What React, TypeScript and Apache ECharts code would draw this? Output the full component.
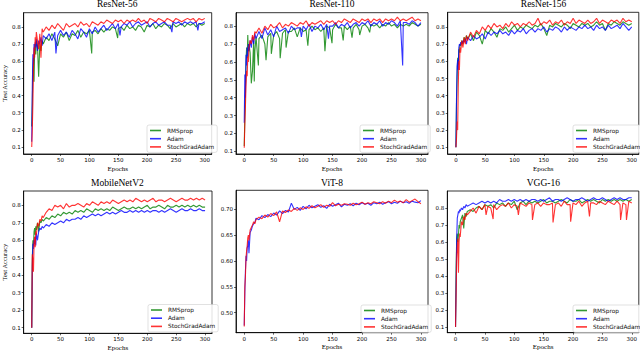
import { useEffect, useRef } from "react";
import * as echarts from "echarts";

const EPOCHS = [0, 1, 2, 3, 4, 5, 6, 7, 8, 10, 12, 14, 16, 18, 20,
  25, 30, 35, 40, 45, 50, 55, 60, 65, 70,
  75, 80, 85, 90, 95, 100, 105, 110, 115, 120,
  125, 130, 135, 140, 145, 150, 155, 160, 165, 170,
  175, 180, 185, 190, 195, 200, 205, 210, 215, 220,
  225, 230, 235, 240, 245, 250, 255, 260, 265, 270,
  275, 280, 285, 290, 295, 300];

const SERIES_NAMES = ["RMSprop", "Adam", "StochGradAdam"];
const COLORS = ["#008000", "#0000ff", "#ff0000"];
const X_TICKS = [0, 50, 100, 150, 200, 250, 300];
const Y_TICKS = [0.1, 0.2, 0.3, 0.4, 0.5, 0.6, 0.7, 0.8];
const VIT_TICKS = [0.5, 0.55, 0.6, 0.65, 0.7];

// ResNet-56
const R56_RMSPROP = [0.22, 0.35, 0.55, 0.62, 0.48, 0.66, 0.70, 0.64, 0.72, 0.69, 0.51, 0.70, 0.66, 0.72, 0.70,
  0.74, 0.72, 0.76, 0.73, 0.69, 0.76, 0.74, 0.77, 0.72, 0.76,
  0.75, 0.78, 0.74, 0.77, 0.76, 0.78, 0.77, 0.78, 0.76, 0.79,
  0.77, 0.79, 0.78, 0.80, 0.79, 0.79, 0.80, 0.78, 0.81, 0.79,
  0.80, 0.78, 0.81, 0.80, 0.77, 0.81, 0.80, 0.82, 0.79, 0.81,
  0.80, 0.82, 0.81, 0.79, 0.82, 0.80, 0.81, 0.82, 0.80, 0.82,
  0.81, 0.82, 0.80, 0.82, 0.81, 0.82];
const R56_RMSPROP_DIPS = [[104, 0.645], [149, 0.735]];
const R56_ADAM = [0.13, 0.45, 0.64, 0.58, 0.70, 0.66, 0.71, 0.68, 0.73, 0.66, 0.72, 0.70, 0.74, 0.69, 0.75,
  0.73, 0.76, 0.72, 0.77, 0.75, 0.78, 0.75, 0.77, 0.74, 0.78,
  0.76, 0.73, 0.79, 0.77, 0.74, 0.79, 0.76, 0.80, 0.77, 0.79,
  0.81, 0.78, 0.80, 0.82, 0.79, 0.82, 0.80, 0.82, 0.81, 0.83,
  0.80, 0.82, 0.83, 0.81, 0.82, 0.83, 0.80, 0.82, 0.83, 0.81,
  0.82, 0.83, 0.81, 0.81, 0.83, 0.82, 0.83, 0.81, 0.83, 0.82,
  0.83, 0.82, 0.83, 0.82, 0.82, 0.83];
const R56_ADAM_DIPS = [[42, 0.645], [153, 0.75], [243, 0.77], [288, 0.78]];
const R56_SGA = [0.10, 0.20, 0.35, 0.55, 0.68, 0.62, 0.74, 0.70, 0.77, 0.72, 0.67, 0.76, 0.62, 0.79, 0.77,
  0.80, 0.78, 0.81, 0.79, 0.82, 0.80, 0.78, 0.82, 0.80, 0.81,
  0.82, 0.80, 0.83, 0.81, 0.82, 0.80, 0.83, 0.82, 0.81, 0.83,
  0.82, 0.84, 0.83, 0.82, 0.84, 0.83, 0.84, 0.82, 0.84, 0.83,
  0.84, 0.83, 0.85, 0.83, 0.84, 0.82, 0.85, 0.84, 0.83, 0.85,
  0.84, 0.83, 0.85, 0.84, 0.83, 0.85, 0.84, 0.83, 0.84, 0.85,
  0.84, 0.85, 0.83, 0.85, 0.84, 0.85];

// ResNet-110
const R110_RMSPROP = [0.13, 0.30, 0.45, 0.60, 0.68, 0.62, 0.75, 0.66, 0.70, 0.65, 0.48, 0.55, 0.72, 0.66, 0.74,
  0.73, 0.75, 0.70, 0.74, 0.76, 0.75, 0.77, 0.73, 0.76, 0.78,
  0.77, 0.77, 0.79, 0.74, 0.79, 0.77, 0.78, 0.78, 0.80, 0.78,
  0.79, 0.77, 0.79, 0.80, 0.79, 0.78, 0.81, 0.79, 0.79, 0.80,
  0.78, 0.80, 0.79, 0.81, 0.78, 0.80, 0.81, 0.79, 0.81, 0.80,
  0.81, 0.79, 0.81, 0.80, 0.82, 0.80, 0.81, 0.79, 0.81, 0.80,
  0.81, 0.80, 0.82, 0.81, 0.80, 0.81];
const R110_RMSPROP_DIPS = [[17, 0.49], [24, 0.58], [37, 0.61], [46, 0.645], [61, 0.62], [71, 0.68],
  [108, 0.69], [137, 0.66], [149, 0.705], [168, 0.72], [183, 0.735], [196, 0.75], [213, 0.765]];
const R110_ADAM = [0.26, 0.53, 0.40, 0.64, 0.58, 0.68, 0.63, 0.70, 0.66, 0.72, 0.68, 0.74, 0.70, 0.76, 0.73,
  0.77, 0.73, 0.79, 0.75, 0.78, 0.74, 0.80, 0.77, 0.78, 0.79,
  0.76, 0.80, 0.78, 0.79, 0.79, 0.80, 0.78, 0.81, 0.77, 0.80,
  0.79, 0.81, 0.78, 0.81, 0.80, 0.80, 0.82, 0.79, 0.81, 0.80,
  0.82, 0.79, 0.81, 0.82, 0.80, 0.82, 0.81, 0.83, 0.80, 0.82,
  0.81, 0.83, 0.80, 0.82, 0.81, 0.83, 0.82, 0.80, 0.83, 0.82,
  0.82, 0.81, 0.83, 0.82, 0.80, 0.82];
const R110_ADAM_DIPS = [[97, 0.74], [143, 0.73], [269, 0.58]];
const R110_SGA = [0.12, 0.25, 0.35, 0.47, 0.55, 0.52, 0.63, 0.60, 0.68, 0.72, 0.70, 0.75, 0.72, 0.77, 0.76,
  0.79, 0.76, 0.80, 0.78, 0.81, 0.79, 0.80, 0.82, 0.79, 0.81,
  0.80, 0.82, 0.81, 0.80, 0.82, 0.81, 0.83, 0.80, 0.82, 0.81,
  0.82, 0.83, 0.81, 0.83, 0.82, 0.83, 0.81, 0.83, 0.82, 0.84,
  0.83, 0.82, 0.84, 0.83, 0.82, 0.84, 0.83, 0.84, 0.82, 0.84,
  0.83, 0.84, 0.82, 0.84, 0.83, 0.84, 0.83, 0.85, 0.83, 0.84,
  0.83, 0.84, 0.85, 0.83, 0.84, 0.83];

// ResNet-156
const R156_RMSPROP = [0.10, 0.35, 0.50, 0.62, 0.58, 0.67, 0.65, 0.70, 0.69, 0.72, 0.70, 0.74, 0.72, 0.75, 0.73,
  0.76, 0.72, 0.77, 0.75, 0.70, 0.78, 0.76, 0.79, 0.77, 0.74,
  0.79, 0.78, 0.80, 0.77, 0.79, 0.81, 0.78, 0.80, 0.79, 0.81,
  0.80, 0.79, 0.81, 0.80, 0.82, 0.79, 0.75, 0.81, 0.80, 0.82,
  0.81, 0.80, 0.82, 0.81, 0.79, 0.82, 0.81, 0.80, 0.82, 0.81,
  0.82, 0.80, 0.81, 0.83, 0.81, 0.82, 0.78, 0.82, 0.81, 0.83,
  0.82, 0.81, 0.83, 0.82, 0.81, 0.82];
const R156_ADAM = [0.10, 0.38, 0.57, 0.61, 0.55, 0.68, 0.70, 0.69, 0.71, 0.70, 0.72, 0.71, 0.73, 0.70, 0.74,
  0.72, 0.75, 0.73, 0.74, 0.76, 0.73, 0.77, 0.75, 0.77, 0.76,
  0.78, 0.76, 0.77, 0.75, 0.78, 0.76, 0.78, 0.77, 0.79, 0.76,
  0.78, 0.79, 0.77, 0.79, 0.78, 0.80, 0.77, 0.79, 0.78, 0.80,
  0.79, 0.77, 0.80, 0.78, 0.80, 0.79, 0.78, 0.80, 0.79, 0.81,
  0.79, 0.80, 0.78, 0.81, 0.79, 0.80, 0.78, 0.81, 0.79, 0.80,
  0.81, 0.79, 0.82, 0.80, 0.78, 0.80];
const R156_SGA = [0.10, 0.15, 0.25, 0.20, 0.45, 0.60, 0.55, 0.68, 0.65, 0.72, 0.68, 0.74, 0.70, 0.75, 0.72,
  0.77, 0.74, 0.78, 0.76, 0.80, 0.78, 0.81, 0.79, 0.82, 0.80,
  0.81, 0.79, 0.82, 0.80, 0.83, 0.81, 0.82, 0.80, 0.82, 0.81,
  0.83, 0.81, 0.82, 0.85, 0.81, 0.83, 0.82, 0.84, 0.81, 0.83,
  0.82, 0.84, 0.81, 0.83, 0.82, 0.85, 0.82, 0.84, 0.83, 0.82,
  0.84, 0.82, 0.83, 0.85, 0.82, 0.84, 0.83, 0.82, 0.84, 0.83,
  0.84, 0.82, 0.85, 0.83, 0.84, 0.83];

// MobileNetV2
const MB_RMSPROP = [0.10, 0.50, 0.60, 0.57, 0.65, 0.67, 0.63, 0.68, 0.66, 0.70, 0.65, 0.71, 0.70, 0.72, 0.71,
  0.73, 0.72, 0.74, 0.73, 0.75, 0.74, 0.76, 0.75, 0.76, 0.75,
  0.77, 0.76, 0.77, 0.76, 0.78, 0.77, 0.76, 0.78, 0.77, 0.78,
  0.77, 0.78, 0.77, 0.79, 0.78, 0.77, 0.78, 0.79, 0.78, 0.78,
  0.79, 0.78, 0.79, 0.78, 0.79, 0.80, 0.78, 0.79, 0.79, 0.80,
  0.79, 0.78, 0.80, 0.79, 0.79, 0.80, 0.79, 0.80, 0.79, 0.80,
  0.79, 0.80, 0.79, 0.80, 0.79, 0.79];
const MB_ADAM = [0.10, 0.45, 0.58, 0.55, 0.60, 0.58, 0.62, 0.57, 0.64, 0.60, 0.65, 0.67, 0.66, 0.68, 0.67,
  0.69, 0.68, 0.70, 0.69, 0.70, 0.71, 0.70, 0.72, 0.71, 0.72,
  0.72, 0.73, 0.72, 0.74, 0.73, 0.74, 0.75, 0.74, 0.75, 0.74,
  0.75, 0.76, 0.75, 0.76, 0.75, 0.76, 0.77, 0.76, 0.76, 0.77,
  0.76, 0.77, 0.76, 0.77, 0.76, 0.77, 0.76, 0.77, 0.77, 0.76,
  0.77, 0.76, 0.77, 0.78, 0.77, 0.76, 0.77, 0.78, 0.77, 0.77,
  0.78, 0.77, 0.77, 0.78, 0.77, 0.77];
const MB_SGA = [0.10, 0.52, 0.48, 0.42, 0.58, 0.62, 0.56, 0.65, 0.63, 0.70, 0.68, 0.72, 0.71, 0.74, 0.73,
  0.76, 0.78, 0.77, 0.80, 0.79, 0.80, 0.78, 0.81, 0.79, 0.80,
  0.80, 0.81, 0.80, 0.79, 0.81, 0.80, 0.82, 0.81, 0.80, 0.82,
  0.81, 0.82, 0.81, 0.83, 0.82, 0.81, 0.82, 0.83, 0.82, 0.83,
  0.82, 0.84, 0.83, 0.82, 0.83, 0.82, 0.83, 0.84, 0.82, 0.83,
  0.83, 0.82, 0.83, 0.84, 0.83, 0.82, 0.83, 0.84, 0.83, 0.83,
  0.84, 0.83, 0.84, 0.83, 0.84, 0.83];

// ViT-8 (no RMSprop trace visible)
const VIT_RMSPROP: number[] = [];
const VIT_ADAM = [0.475, 0.54, 0.58, 0.61, 0.60, 0.625, 0.63, 0.64, 0.615, 0.655, 0.66, 0.668, 0.672, 0.675, 0.683,
  0.680, 0.688, 0.684, 0.690, 0.686, 0.693, 0.689, 0.697, 0.692, 0.698,
  0.695, 0.712, 0.700, 0.704, 0.698, 0.706, 0.701, 0.708, 0.703, 0.706,
  0.709, 0.704, 0.707, 0.702, 0.710, 0.706, 0.709, 0.712, 0.705, 0.710,
  0.708, 0.711, 0.707, 0.712, 0.709, 0.713, 0.710, 0.712, 0.708, 0.713,
  0.711, 0.714, 0.710, 0.713, 0.715, 0.711, 0.714, 0.712, 0.716, 0.713,
  0.715, 0.712, 0.716, 0.714, 0.713, 0.717];
const VIT_SGA = [0.473, 0.55, 0.57, 0.605, 0.62, 0.63, 0.645, 0.65, 0.64, 0.66, 0.665, 0.67, 0.676, 0.672, 0.680,
  0.685, 0.682, 0.689, 0.685, 0.692, 0.688, 0.695, 0.676, 0.697, 0.694,
  0.699, 0.696, 0.702, 0.698, 0.703, 0.700, 0.705, 0.702, 0.707, 0.703,
  0.706, 0.709, 0.704, 0.708, 0.706, 0.713, 0.707, 0.710, 0.708, 0.711,
  0.710, 0.708, 0.712, 0.709, 0.711, 0.714, 0.710, 0.713, 0.711, 0.715,
  0.713, 0.711, 0.715, 0.712, 0.716, 0.713, 0.718, 0.714, 0.716, 0.713,
  0.719, 0.714, 0.717, 0.720, 0.715, 0.711];

// VGG-16
const VGG_RMSPROP = [0.10, 0.45, 0.62, 0.65, 0.60, 0.64, 0.70, 0.68, 0.72, 0.74, 0.76, 0.68, 0.77, 0.75, 0.78,
  0.79, 0.78, 0.80, 0.81, 0.79, 0.82, 0.81, 0.82, 0.80, 0.83,
  0.82, 0.83, 0.81, 0.83, 0.82, 0.84, 0.79, 0.83, 0.84, 0.82,
  0.84, 0.83, 0.84, 0.83, 0.84, 0.85, 0.83, 0.84, 0.84, 0.83,
  0.84, 0.85, 0.84, 0.83, 0.85, 0.84, 0.84, 0.85, 0.83, 0.84,
  0.85, 0.84, 0.85, 0.84, 0.83, 0.85, 0.84, 0.85, 0.84, 0.85,
  0.84, 0.85, 0.84, 0.85, 0.84, 0.85];
const VGG_ADAM = [0.10, 0.35, 0.62, 0.74, 0.76, 0.78, 0.77, 0.79, 0.78, 0.80, 0.79, 0.81, 0.80, 0.82, 0.81,
  0.82, 0.83, 0.82, 0.83, 0.84, 0.83, 0.84, 0.83, 0.84, 0.83,
  0.85, 0.84, 0.84, 0.85, 0.84, 0.85, 0.84, 0.85, 0.84, 0.85,
  0.84, 0.85, 0.85, 0.84, 0.85, 0.84, 0.85, 0.86, 0.84, 0.85,
  0.85, 0.84, 0.85, 0.86, 0.85, 0.84, 0.85, 0.85, 0.86, 0.85,
  0.84, 0.85, 0.86, 0.85, 0.85, 0.86, 0.85, 0.84, 0.85, 0.86,
  0.85, 0.86, 0.85, 0.85, 0.86, 0.86];
const VGG_SGA = [0.10, 0.30, 0.50, 0.58, 0.62, 0.42, 0.60, 0.65, 0.63, 0.72, 0.70, 0.75, 0.73, 0.77, 0.76,
  0.78, 0.80, 0.77, 0.81, 0.79, 0.82, 0.81, 0.80, 0.82, 0.79,
  0.81, 0.82, 0.81, 0.83, 0.80, 0.82, 0.81, 0.83, 0.82, 0.81,
  0.83, 0.82, 0.82, 0.83, 0.81, 0.83, 0.82, 0.82, 0.83, 0.82,
  0.83, 0.81, 0.84, 0.82, 0.82, 0.83, 0.82, 0.84, 0.81, 0.83,
  0.84, 0.83, 0.83, 0.82, 0.84, 0.83, 0.82, 0.84, 0.83, 0.82,
  0.84, 0.82, 0.83, 0.82, 0.84, 0.83];
const VGG_SGA_DIPS = [[52, 0.76], [64, 0.735], [107, 0.76], [131, 0.73], [166, 0.715], [196, 0.72],
  [228, 0.75], [281, 0.73], [291, 0.73]];

const NO_DIPS: number[][] = [];

const PANELS = [
  { title: "ResNet-56", data: [R56_RMSPROP, R56_ADAM, R56_SGA], dips: [R56_RMSPROP_DIPS, R56_ADAM_DIPS, NO_DIPS],
    ticks: Y_TICKS, digits: 1,
    grid: { left: 22.7, top: 12.7, width: 189, height: 141.3 }, yMin: 0.059, yMax: 0.883,
    titlePos: [117.2, 3.6], legendPos: [147, 125], yName: true },
  { title: "ResNet-110", data: [R110_RMSPROP, R110_ADAM, R110_SGA], dips: [R110_RMSPROP_DIPS, R110_ADAM_DIPS, NO_DIPS],
    ticks: Y_TICKS, digits: 1,
    grid: { left: 236, top: 12.7, width: 192, height: 141.3 }, yMin: 0.085, yMax: 0.875,
    titlePos: [332, 3.6], legendPos: [360, 125], yName: false },
  { title: "ResNet-156", data: [R156_RMSPROP, R156_ADAM, R156_SGA], dips: [NO_DIPS, NO_DIPS, NO_DIPS],
    ticks: Y_TICKS, digits: 1,
    grid: { left: 447.7, top: 12.3, width: 191.5, height: 141.7 }, yMin: 0.061, yMax: 0.885,
    titlePos: [543.5, 3.6], legendPos: [573, 125], yName: false },
  { title: "MobileNetV2", data: [MB_RMSPROP, MB_ADAM, MB_SGA], dips: [NO_DIPS, NO_DIPS, NO_DIPS],
    ticks: Y_TICKS, digits: 1,
    grid: { left: 22.7, top: 191, width: 189.3, height: 142.3 }, yMin: 0.068, yMax: 0.882,
    titlePos: [117.4, 183], legendPos: [148, 304.5], yName: true },
  { title: "ViT-8", data: [VIT_RMSPROP, VIT_ADAM, VIT_SGA], dips: [NO_DIPS, NO_DIPS, NO_DIPS],
    ticks: VIT_TICKS, digits: 2,
    grid: { left: 236, top: 190.3, width: 192, height: 142.4 }, yMin: 0.461, yMax: 0.737,
    titlePos: [332, 182.7], legendPos: [361, 305], yName: false },
  { title: "VGG-16", data: [VGG_RMSPROP, VGG_ADAM, VGG_SGA], dips: [NO_DIPS, NO_DIPS, VGG_SGA_DIPS],
    ticks: Y_TICKS, digits: 1,
    grid: { left: 447.3, top: 191, width: 192, height: 141.7 }, yMin: 0.067, yMax: 0.9,
    titlePos: [543.3, 183], legendPos: [573, 305], yName: false },
];

const SERIF = "'Liberation Serif', 'Times New Roman', serif";
const SANS = "'DejaVu Sans', sans-serif";

export default function App() {
  const ref = useRef<HTMLDivElement>(null);
  useEffect(() => {
    if (!ref.current) return;
    const chart = echarts.init(ref.current, undefined, { renderer: "svg" });
    const grid = PANELS.map((p) => ({
      ...p.grid,
      show: true,
      borderColor: "#000",
      borderWidth: 0.8,
      backgroundColor: "#fff",
    }));
    const xAxis = PANELS.map((p, i) => ({
      type: "value",
      gridIndex: i,
      min: -14,
      max: 312,
      name: "Epochs",
      nameLocation: "middle",
      nameGap: 11,
      nameTextStyle: { fontFamily: SERIF, fontSize: 7, color: "#000" },
      axisLine: { show: true, onZero: false, lineStyle: { color: "#000", width: 0.8 } },
      axisTick: { show: true, length: 2, customValues: X_TICKS, lineStyle: { color: "#000", width: 0.6 } },
      axisLabel: { customValues: X_TICKS, fontSize: 5.5, fontFamily: SANS, color: "#000", margin: 3 },
      splitLine: { show: false },
    }));
    const yAxis = PANELS.map((p, i) => ({
      type: "value",
      gridIndex: i,
      min: p.yMin,
      max: p.yMax,
      name: p.yName ? "Test Accuracy" : "",
      nameLocation: "middle",
      nameGap: 15.5,
      nameRotate: 90,
      nameTextStyle: { fontFamily: SERIF, fontSize: 6.5, color: "#000" },
      axisLine: { show: true, onZero: false, lineStyle: { color: "#000", width: 0.8 } },
      axisTick: { show: true, length: 2, customValues: p.ticks, lineStyle: { color: "#000", width: 0.6 } },
      axisLabel: {
        customValues: p.ticks,
        fontSize: 5.5,
        fontFamily: SANS,
        color: "#000",
        margin: 3,
        formatter: (v: number) => v.toFixed(p.digits),
      },
      splitLine: { show: false },
    }));
    const series: any[] = [];
    PANELS.forEach((p, i) => {
      p.data.forEach((vals, k) => {
        const pts = vals
          .map((v, j) => [EPOCHS[j], v])
          .concat(p.dips[k])
          .sort((a, b) => a[0] - b[0]);
        series.push({
          type: "line",
          name: SERIES_NAMES[k],
          xAxisIndex: i,
          yAxisIndex: i,
          data: pts,
          showSymbol: false,
          symbol: "none",
          lineStyle: { color: COLORS[k], width: 1.1, opacity: 0.8 },
          itemStyle: { color: COLORS[k], opacity: 0.8 },
          emphasis: { disabled: true },
        });
      });
    });
    const legend = PANELS.map((p) => ({
      data: SERIES_NAMES,
      left: p.legendPos[0],
      top: p.legendPos[1],
      orient: "vertical",
      icon: "rect",
      itemWidth: 11,
      itemHeight: 1.6,
      itemGap: 2.2,
      padding: [2.5, 3, 2.5, 3],
      textStyle: { fontSize: 5.8, fontFamily: SANS, color: "#111", padding: [0, 0, 0, 1] },
      borderColor: "#ccc",
      borderWidth: 0.6,
      borderRadius: 2,
      backgroundColor: "rgba(255,255,255,0.85)",
      selectedMode: false,
    }));
    const graphic = PANELS.map((p) => ({
      type: "text",
      x: p.titlePos[0],
      y: p.titlePos[1],
      style: {
        text: p.title,
        fontFamily: SERIF,
        fontSize: 9.5,
        fill: "#000",
        textAlign: "center",
        textVerticalAlign: "middle",
      },
    }));
    chart.setOption({
      animation: false,
      backgroundColor: "#fff",
      grid,
      xAxis,
      yAxis,
      series,
      legend,
      graphic,
    } as any);
    return () => chart.dispose();
  }, []);
  return (
    <div
      ref={ref}
      style={{ position: "absolute", left: 0, top: 0, width: 640, height: 353 }}
    />
  );
}
